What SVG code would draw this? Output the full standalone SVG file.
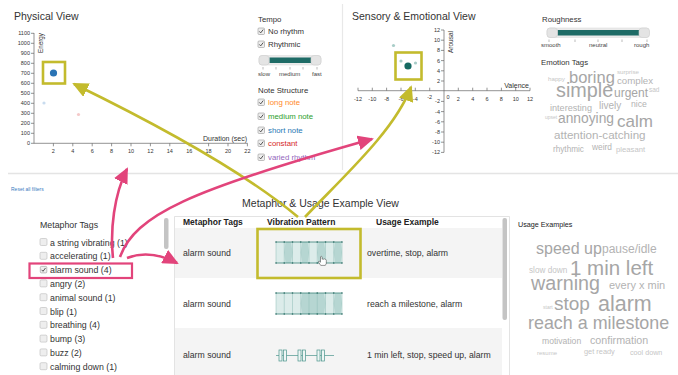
<svg xmlns="http://www.w3.org/2000/svg" xmlns:xlink="http://www.w3.org/1999/xlink" width="678" height="375" viewBox="0 0 678 375">
<style>
text{font-family:"Liberation Sans",Arial,sans-serif;fill:#333}
.title{font-size:10.5px}
.lbl{font-size:7.8px}
.tick{font-size:5.5px;fill:#444}
.ax{stroke:#666;stroke-width:0.7;fill:none}
.sl{font-size:6px;fill:#444}
.mt{font-size:8.8px;fill:#333}
.th{font-size:8.5px;font-weight:bold;fill:#222}
.td{font-size:8.7px;fill:#333}
.w1{fill:#a6a6a6}
.w2{fill:#b3b3b3}
.w3{fill:#c6c6c6}
.ya{stroke:#c3bb2d;stroke-width:2.6;fill:none}
.pa{stroke:#e2447b;stroke-width:2.6;fill:none}
.vl{stroke:#8fbdb7;stroke-width:0.5}
.vb{stroke:#3b8379;stroke-width:0.8}
.vd{fill:#b6d6d2}
</style>
<defs>
<g id="cbOn"><rect x="0" y="0" width="6.5" height="6.5" rx="1" fill="#eee" stroke="#999" stroke-width="0.6"/><path d="M1.3,3.4 L2.7,4.9 L5.2,1.6" fill="none" stroke="#444" stroke-width="0.9"/></g>
<g id="cbOff"><rect x="0" y="0" width="7" height="7" rx="1.2" fill="#eee" stroke="#bbb" stroke-width="0.6"/></g>
<marker id="ahY" markerUnits="userSpaceOnUse" markerWidth="17" markerHeight="15" refX="14" refY="7.5" orient="auto"><path d="M0,0 L16,7.5 L0,15 z" fill="#c3bb2d"/></marker>
<marker id="ahP" markerUnits="userSpaceOnUse" markerWidth="17" markerHeight="15" refX="14" refY="7.5" orient="auto"><path d="M0,0 L16,7.5 L0,15 z" fill="#e2447b"/></marker>
</defs>

<!-- separators -->
<line x1="342.5" y1="4" x2="342.5" y2="170" stroke="#e8e8e8" stroke-width="1.2"/>
<line x1="8" y1="173.5" x2="678" y2="173.5" stroke="#e4e4e4" stroke-width="1.5"/>

<!-- Physical View -->
<g id="physical-view">
<text class="title" x="14" y="20">Physical View</text>
<line class="ax" x1="34" y1="33" x2="34" y2="143.3"/>
<line class="ax" x1="34" y1="143.3" x2="247.5" y2="143.3"/>
<g class="ax">
<path d="M31,143.3h3M31,133.3h3M31,123.3h3M31,113.3h3M31,103.3h3M31,93.3h3M31,83.3h3M31,73.3h3M31,63.3h3M31,53.3h3M31,43.3h3M31,33.3h3"/>
<path d="M53.4,143.3v3M72.8,143.3v3M92.2,143.3v3M111.6,143.3v3M131,143.3v3M150.4,143.3v3M169.8,143.3v3M189.2,143.3v3M208.6,143.3v3M228,143.3v3M247.4,143.3v3"/>
</g>
<g class="tick" text-anchor="end">
<text x="30" y="145.3">0</text><text x="30" y="135.3">100</text><text x="30" y="125.3">200</text><text x="30" y="115.3">300</text><text x="30" y="105.3">400</text><text x="30" y="95.3">500</text><text x="30" y="85.3">600</text><text x="30" y="75.3">700</text><text x="30" y="65.3">800</text><text x="30" y="55.3">900</text><text x="30" y="45.3">1000</text><text x="30" y="35.3">1100</text>
</g>
<g class="tick" text-anchor="middle">
<text x="53.4" y="153">2</text><text x="72.8" y="153">4</text><text x="92.2" y="153">6</text><text x="111.6" y="153">8</text><text x="131" y="153">10</text><text x="150.4" y="153">12</text><text x="169.8" y="153">14</text><text x="189.2" y="153">16</text><text x="208.6" y="153">18</text><text x="228" y="153">20</text><text x="247.4" y="153">22</text>
</g>
<text transform="translate(43,33) rotate(-90)" text-anchor="end" style="font-size:6.3px">Energy</text>
<text x="247" y="140.5" text-anchor="end" style="font-size:7px">Duration (sec)</text>
<circle cx="44" cy="103" r="1.6" fill="#c9dcef"/>
<circle cx="78.5" cy="114.5" r="1.6" fill="#f5c9c9"/>
<circle cx="53.5" cy="73" r="3.6" fill="#2a74b5"/>
</g>

<!-- Tempo / Note structure filters -->
<g id="tempo-filter">
<text class="lbl" x="258" y="22">Tempo</text>
<use href="#cbOn" x="258" y="28"/>
<text class="lbl" x="268" y="34">No rhythm</text>
<use href="#cbOn" x="258" y="41"/>
<text class="lbl" x="268" y="47">Rhythmic</text>
<rect x="259" y="55.5" width="62" height="9.5" rx="3" fill="#eaeaea" stroke="#ddd" stroke-width="0.6"/>
<rect x="269.5" y="57.5" width="41.5" height="5.5" fill="#1e6b66"/>
<rect x="259" y="55.5" width="10" height="9.5" rx="3" fill="#e4e4e4" stroke="#cfcfcf" stroke-width="0.6"/>
<rect x="311" y="55.5" width="10" height="9.5" rx="3" fill="#e4e4e4" stroke="#cfcfcf" stroke-width="0.6"/>
<path d="M263,67v2.5M276,67v2.5M290,67v2.5M303,67v2.5M317,67v2.5" stroke="#777" stroke-width="0.5"/>
<text class="sl" x="258" y="76">slow</text>
<text class="sl" x="279" y="76">medium</text>
<text class="sl" x="312" y="76">fast</text>
</g>
<g id="note-structure-filter">
<text class="lbl" x="258" y="93">Note Structure</text>
<use href="#cbOn" x="258" y="99"/>
<text class="lbl" x="268" y="105" style="fill:#ff8a1f">long note</text>
<use href="#cbOn" x="258" y="113"/>
<text class="lbl" x="268" y="119" style="fill:#2ca02c">medium note</text>
<use href="#cbOn" x="258" y="127"/>
<text class="lbl" x="268" y="133" style="fill:#1f77b4">short note</text>
<use href="#cbOn" x="258" y="140"/>
<text class="lbl" x="268" y="146" style="fill:#d62728">constant</text>
<use href="#cbOn" x="258" y="154"/>
<text class="lbl" x="268" y="160" style="fill:#9467bd">varied rhythm</text>
</g>

<!-- Sensory & Emotional View -->
<g id="sensory-view">
<text class="title" x="352" y="20">Sensory &amp; Emotional View</text>
<line class="ax" x1="358" y1="90.7" x2="530" y2="90.7"/>
<line class="ax" x1="444" y1="30" x2="444" y2="152.4"/>
<path class="ax" d="M358,87.7v3M372.3,87.7v3M386.6,87.7v3M401,87.7v3M415.3,87.7v3M429.7,87.7v3M458.3,87.7v3M472.7,87.7v3M487,87.7v3M501.4,87.7v3M515.7,87.7v3M530,87.7v3"/>
<path class="ax" d="M441,30h3M441,40.2h3M441,50.4h3M441,60.6h3M441,70.8h3M441,81h3M441,101.4h3M441,111.6h3M441,121.8h3M441,132h3M441,142.2h3M441,152.4h3"/>
<g class="tick" text-anchor="middle">
<text x="358" y="101">-12</text><text x="372.3" y="101">-10</text><text x="386.6" y="101">-8</text><text x="401" y="101">-6</text><text x="415.3" y="101">-4</text><text x="429.7" y="99">-2</text><text x="448" y="99">0</text><text x="458.3" y="101">2</text><text x="472.7" y="101">4</text><text x="487" y="101">6</text><text x="501.4" y="101">8</text><text x="515.7" y="101">10</text><text x="530" y="101">12</text>
</g>
<g class="tick" text-anchor="end">
<text x="440" y="32">12</text><text x="440" y="42.2">10</text><text x="440" y="52.4">8</text><text x="440" y="62.6">6</text><text x="440" y="72.8">4</text><text x="440" y="83">2</text><text x="440" y="103.4">-2</text><text x="440" y="113.6">-4</text><text x="440" y="123.8">-6</text><text x="440" y="134">-8</text><text x="440" y="144.2">-10</text><text x="440" y="154.4">-12</text>
</g>
<text transform="translate(452.5,31) rotate(-90)" text-anchor="end" style="font-size:6.5px">Arousal</text>
<text x="529" y="88" text-anchor="end" style="font-size:7px">Valence</text>
<circle cx="393.5" cy="45.5" r="1.6" fill="#a8cdc8"/>
<circle cx="401" cy="61" r="1.6" fill="#a8cdc8"/>
<circle cx="415.5" cy="63" r="1.6" fill="#a8cdc8"/>
<circle cx="408" cy="66" r="3.6" fill="#166a62"/>
</g>

<!-- Roughness / Emotion tags -->
<g id="roughness-filter">
<text class="lbl" x="542" y="22">Roughness</text>
<rect x="547" y="28" width="102" height="9.5" rx="3" fill="#eaeaea" stroke="#ddd" stroke-width="0.6"/>
<rect x="557.5" y="30" width="82" height="5.5" fill="#1e6b66"/>
<rect x="547" y="28" width="10.5" height="9.5" rx="3" fill="#e4e4e4" stroke="#cfcfcf" stroke-width="0.6"/>
<rect x="639" y="28" width="10.5" height="9.5" rx="3" fill="#e4e4e4" stroke="#cfcfcf" stroke-width="0.6"/>
<path d="M549,39.5v2.5M575,39.5v2.5M598,39.5v2.5M622,39.5v2.5M647,39.5v2.5" stroke="#777" stroke-width="0.5"/>
<text class="sl" x="541" y="47">smooth</text>
<text class="sl" x="589" y="47">neutral</text>
<text class="sl" x="634" y="47">rough</text>
</g>
<g id="emotion-tags">
<text class="lbl" x="541" y="65">Emotion Tags</text>
<text class="w3" x="548" y="81" style="font-size:6.2px">happy</text>
<text class="w1" x="569" y="83" style="font-size:16.5px">boring</text>
<text class="w3" x="617" y="74" style="font-size:6.2px">surprise</text>
<text class="w2" x="617" y="84" style="font-size:9.7px">complex</text>
<text class="w1" x="556" y="97" style="font-size:19.8px">simple</text>
<text class="w1" x="614" y="97" style="font-size:12px">urgent</text>
<text class="w3" x="649" y="92" style="font-size:6.5px">sad</text>
<text class="w2" x="550" y="111" style="font-size:9.1px">interesting</text>
<text class="w2" x="599" y="109" style="font-size:10px">lively</text>
<text class="w2" x="631" y="107" style="font-size:8.7px">nice</text>
<text class="w3" x="545" y="118.5" style="font-size:5px">upset</text>
<text class="w1" x="558" y="123" style="font-size:13.8px">annoying</text>
<text class="w1" x="617" y="127" style="font-size:17px">calm</text>
<text class="w2" x="554" y="139" style="font-size:11.6px">attention-catching</text>
<text class="w2" x="553" y="152" style="font-size:8.2px">rhythmic</text>
<text class="w2" x="592" y="150" style="font-size:8.4px">weird</text>
<text class="w3" x="616" y="152" style="font-size:7.7px">pleasant</text>
</g>

<!-- Reset -->
<text x="11" y="191" style="font-size:5px;fill:#3a7bbf">Reset all filters</text>

<!-- Metaphor tags list -->
<g id="metaphor-tags">
<text class="mt" x="40" y="228">Metaphor Tags</text>
<use href="#cbOff" x="40" y="238.5"/><text class="mt" x="50" y="245.5">a string vibrating (1)</text>
<use href="#cbOff" x="40" y="252.3"/><text class="mt" x="50" y="259.3">accelerating (1)</text>
<use href="#cbOn" x="40.3" y="266.4"/><text class="mt" x="50" y="273.1">alarm sound (4)</text>
<use href="#cbOff" x="40" y="279.9"/><text class="mt" x="50" y="286.9">angry (2)</text>
<use href="#cbOff" x="40" y="293.7"/><text class="mt" x="50" y="300.7">animal sound (1)</text>
<use href="#cbOff" x="40" y="307.5"/><text class="mt" x="50" y="314.5">blip (1)</text>
<use href="#cbOff" x="40" y="321.3"/><text class="mt" x="50" y="328.3">breathing (4)</text>
<use href="#cbOff" x="40" y="335.1"/><text class="mt" x="50" y="342.1">bump (3)</text>
<use href="#cbOff" x="40" y="348.9"/><text class="mt" x="50" y="355.9">buzz (2)</text>
<use href="#cbOff" x="40" y="362.7"/><text class="mt" x="50" y="369.7">calming down (1)</text>
<rect x="164" y="218" width="4.5" height="31" rx="2" fill="#c4c4c4"/>
</g>

<!-- Metaphor & Usage Example table -->
<g id="usage-table">
<text class="title" x="320.5" y="207" text-anchor="middle">Metaphor &amp; Usage Example View</text>
<rect x="175" y="228" width="327" height="50" fill="#f4f4f4"/>
<rect x="175" y="328" width="327" height="47" fill="#f4f4f4"/>
<path d="M174.5,375V216.5H509.5V375" fill="none" stroke="#dcdcdc" stroke-width="0.8"/>
<rect x="502.5" y="218" width="4.5" height="102" rx="2" fill="#c4c4c4"/>
<text class="th" x="183" y="225">Metaphor Tags</text>
<text class="th" x="267" y="225">Vibration Pattern</text>
<text class="th" x="376" y="225">Usage Example</text>
<text class="td" x="183" y="256">alarm sound</text>
<text class="td" x="367" y="256">overtime, stop, alarm</text>
<text class="td" x="183" y="307">alarm sound</text>
<text class="td" x="367" y="307">reach a milestone, alarm</text>
<text class="td" x="183" y="358">alarm sound</text>
<text class="td" x="367" y="358">1 min left, stop, speed up, alarm</text>
</g>

<!-- vibration patterns -->
<g id="pattern-1">
<rect x="276" y="242" width="66" height="21" fill="#dcecea"/>
<polygon class="vd" points="285.5,242 291.2,242 292.5,252.5 291.2,263 285.5,263 284.2,252.5"/>
<polygon class="vd" points="302,242 307.7,242 309,252.5 307.7,263 302,263 300.7,252.5"/>
<polygon class="vd" points="318.5,242 324.2,242 325.5,252.5 324.2,263 318.5,263 317.2,252.5"/>
<polygon class="vd" points="335,242 340.7,242 342,252.5 340.7,263 335,263 333.7,252.5"/>
<path class="vl" d="M276,242v21M284.25,242v21M292.5,242v21M300.75,242v21M309,242v21M317.25,242v21M325.5,242v21M333.75,242v21M342,242v21"/>
<path class="vb" d="M276,242h66M276,263h66"/>
<g fill="#2e6f67"><circle cx="276" cy="242" r="0.8"/><circle cx="284.25" cy="242" r="0.8"/><circle cx="292.5" cy="242" r="0.8"/><circle cx="300.75" cy="242" r="0.8"/><circle cx="309" cy="242" r="0.8"/><circle cx="317.25" cy="242" r="0.8"/><circle cx="325.5" cy="242" r="0.8"/><circle cx="333.75" cy="242" r="0.8"/><circle cx="342" cy="242" r="0.8"/>
<circle cx="276" cy="263" r="0.8"/><circle cx="284.25" cy="263" r="0.8"/><circle cx="292.5" cy="263" r="0.8"/><circle cx="300.75" cy="263" r="0.8"/><circle cx="309" cy="263" r="0.8"/><circle cx="317.25" cy="263" r="0.8"/><circle cx="325.5" cy="263" r="0.8"/><circle cx="333.75" cy="263" r="0.8"/><circle cx="342" cy="263" r="0.8"/></g>
<path d="M320.5,256.8v5.4l-1.2,-1q-1.1,-0.3 -0.7,1l2.1,3.2h4.6l1,-2v-3.1q0,-1 -1,-1q-0.8,-0.9 -1.6,0q-0.8,-0.9 -1.6,0v-2.5q-0.8,-1 -1.6,0z" fill="#fff" stroke="#333" stroke-width="0.5"/>
</g>
<g id="pattern-2">
<rect x="276" y="293" width="66" height="21" fill="#dcecea"/>
<polygon class="vd" points="302,293 324.2,293 325.5,303.5 324.2,314 302,314 300.7,303.5"/>
<polygon class="vd" points="335,293 340.7,293 342,303.5 340.7,314 335,314 333.7,303.5"/>
<path class="vl" d="M276,293v21M284.25,293v21M292.5,293v21M300.75,293v21M309,293v21M317.25,293v21M325.5,293v21M333.75,293v21M342,293v21"/>
<path class="vb" d="M276,293h66M276,314h66"/>
<g fill="#2e6f67"><circle cx="276" cy="293" r="0.8"/><circle cx="284.25" cy="293" r="0.8"/><circle cx="292.5" cy="293" r="0.8"/><circle cx="300.75" cy="293" r="0.8"/><circle cx="309" cy="293" r="0.8"/><circle cx="317.25" cy="293" r="0.8"/><circle cx="325.5" cy="293" r="0.8"/><circle cx="333.75" cy="293" r="0.8"/><circle cx="342" cy="293" r="0.8"/>
<circle cx="276" cy="314" r="0.8"/><circle cx="284.25" cy="314" r="0.8"/><circle cx="292.5" cy="314" r="0.8"/><circle cx="300.75" cy="314" r="0.8"/><circle cx="309" cy="314" r="0.8"/><circle cx="317.25" cy="314" r="0.8"/><circle cx="325.5" cy="314" r="0.8"/><circle cx="333.75" cy="314" r="0.8"/><circle cx="342" cy="314" r="0.8"/></g>
</g>
<g id="pattern-3" fill="#eef6f5" stroke="#4a958c" stroke-width="0.7">
<path d="M276,355.5h58" fill="none"/>
<rect x="279" y="350" width="3" height="11"/><rect x="283.5" y="350" width="3" height="11"/>
<rect x="298" y="350" width="3" height="11"/><rect x="302.5" y="350" width="3" height="11"/>
<rect x="317" y="350" width="3" height="11"/><rect x="321.5" y="350" width="3" height="11"/>
</g>

<!-- Usage examples cloud -->
<g id="usage-examples">
<text x="518" y="227" style="font-size:7.2px;fill:#222">Usage Examples</text>
<text class="w1" x="536" y="254" style="font-size:16px">speed up</text>
<text class="w2" x="602" y="253" style="font-size:12px">pause/idle</text>
<text class="w3" x="529" y="273" style="font-size:8.2px">slow down</text>
<text class="w1" x="570" y="275" style="font-size:20.5px">1 min left</text>
<text class="w1" x="531" y="290" style="font-size:19.7px">warning</text>
<text class="w2" x="609" y="289" style="font-size:11px">every x min</text>
<text class="w3" x="543" y="309" style="font-size:5px">start</text>
<text class="w1" x="554" y="310" style="font-size:19px">stop</text>
<text class="w1" x="598" y="311" style="font-size:21.5px">alarm</text>
<text class="w1" x="528" y="329" style="font-size:17.9px">reach a milestone</text>
<text class="w2" x="542" y="344" style="font-size:8.6px">motivation</text>
<text class="w2" x="590" y="344" style="font-size:10.7px">confirmation</text>
<text class="w3" x="537" y="355" style="font-size:6px">resume</text>
<text class="w3" x="584" y="354" style="font-size:7.4px">get ready</text>
<text class="w3" x="630" y="355" style="font-size:7.2px">cool down</text>
</g>

<!-- highlight boxes -->
<g id="highlights" fill="none">
<rect x="43" y="62" width="22" height="21.5" stroke="#c3bb2d" stroke-width="2.6"/>
<rect x="395.5" y="52.5" width="26" height="27" stroke="#c3bb2d" stroke-width="2.6"/>
<rect x="257.5" y="229" width="103" height="49" stroke="#c3bb2d" stroke-width="2.6"/>
<rect x="29.5" y="263.5" width="102.5" height="14.5" stroke="#e2447b" stroke-width="2.2"/>
</g>

<!-- connectors -->
<g id="connectors">
<path class="ya" d="M298,217 Q230,160 74,84" marker-end="url(#ahY)"/>
<path class="ya" d="M305,217 C345,175 395,130 411,87" marker-end="url(#ahY)"/>
<path class="pa" d="M113,258 C110,230 114,195 127,169" marker-end="url(#ahP)"/>
<path class="pa" d="M120,257 C135,215 190,190 372,139" marker-end="url(#ahP)"/>
<path class="pa" d="M127,258 Q150,249 177,263" marker-end="url(#ahP)"/>
</g>
</svg>
